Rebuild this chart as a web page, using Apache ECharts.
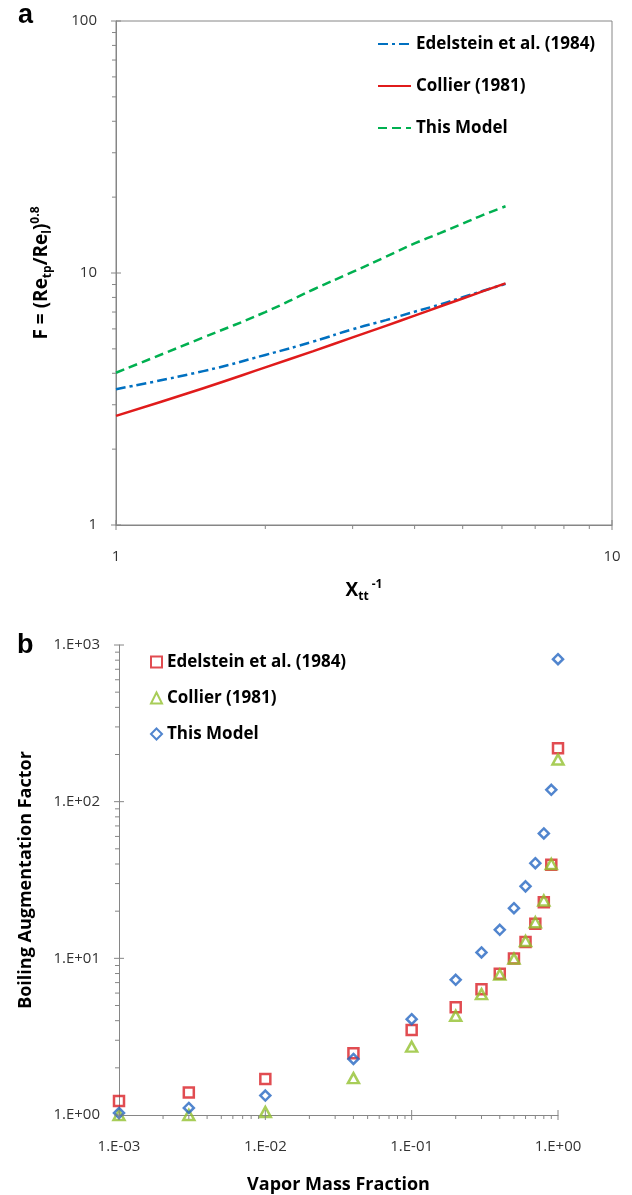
<!DOCTYPE html>
<html><head><meta charset="utf-8">
<script src="https://cdn.jsdelivr.net/npm/echarts@6/dist/echarts.min.js"></script>
<style>html,body{margin:0;padding:0;background:#fff}#c{width:632px;height:1195px}</style>
</head><body><div id="c"></div>
<script>
// ---------- Panel a data ----------
const aX = [1, 1.5, 2, 2.5, 3, 3.5, 4, 4.5, 5, 5.5, 6.1];
const aEdelstein = [3.46, 4.08, 4.73, 5.35, 5.98, 6.5, 7.02, 7.5, 8.01, 8.5, 9.05];
const aCollier = [2.71, 3.49, 4.22, 4.90, 5.55, 6.17, 6.77, 7.36, 7.92, 8.47, 9.1];
const aModel = [4.02, 5.55, 7.0, 8.6, 10.1, 11.6, 13.1, 14.4, 15.7, 17.0, 18.4];
const aMajorX = [1, 10];
const aMinorX = [2, 3, 4, 5, 6, 7, 8, 9];
const aMajorY = [1, 10, 100];
const aMinorY = [2, 3, 4, 5, 6, 7, 8, 9, 20, 30, 40, 50, 60, 70, 80, 90];

// ---------- Panel b data ----------
const bX = [0.001, 0.003, 0.01, 0.04, 0.1, 0.2, 0.3, 0.4, 0.5, 0.6, 0.7, 0.8, 0.9, 1.0];
const bEdelstein = [1.23, 1.39, 1.70, 2.48, 3.49, 4.88, 6.35, 7.96, 9.96, 12.7, 16.6, 22.8, 39.6, 219];
const bCollier = [1.0, 1.0, 1.045, 1.72, 2.73, 4.30, 5.91, 7.88, 9.96, 12.9, 17.0, 23.4, 40.0, 186];
const bModel = [1.03, 1.11, 1.33, 2.28, 4.09, 7.29, 10.9, 15.2, 20.9, 28.8, 40.5, 62.7, 119, 812];
const bMajorX = [0.001, 0.01, 0.1, 1];
const bMinorX = [0.002, 0.003, 0.004, 0.005, 0.006, 0.007, 0.008, 0.009,
                 0.02, 0.03, 0.04, 0.05, 0.06, 0.07, 0.08, 0.09,
                 0.2, 0.3, 0.4, 0.5, 0.6, 0.7, 0.8, 0.9];
const bMajorY = [1, 10, 100, 1000];
const bMinorY = [2, 3, 4, 5, 6, 7, 8, 9, 20, 30, 40, 50, 60, 70, 80, 90,
                 200, 300, 400, 500, 600, 700, 800, 900];

const FONT = 'Open Sans';
const AXIS_COLOR = '#868686';
const LABEL_COLOR = '#333333';

function pairs(xs, ys) { return xs.map((x, i) => [x, ys[i]]); }

function sci(v) {
  const e = Math.round(Math.log10(v));
  return '1.E' + (e < 0 ? '-' : '+') + String(Math.abs(e)).padStart(2, '0');
}

// kind: 0 x-minor (down), 1 x-major (cross), 2 y-minor (left), 3 y-major (cross)
function tickSeries(idx, xMin, yMin, majX, minX, majY, minY) {
  const data = []
    .concat(minX.map(v => [v, yMin, 0]))
    .concat(majX.map(v => [v, yMin, 1]))
    .concat(minY.map(v => [xMin, v, 2]))
    .concat(majY.map(v => [xMin, v, 3]));
  return {
    type: 'custom', xAxisIndex: idx, yAxisIndex: idx, silent: true, clip: false, z: 5,
    data: data,
    renderItem: function (params, api) {
      const p = api.coord([api.value(0), api.value(1)]);
      const k = api.value(2);
      let s;
      if (k === 0) s = { x1: p[0], y1: p[1], x2: p[0], y2: p[1] + 4 };
      else if (k === 1) s = { x1: p[0], y1: p[1] - 5, x2: p[0], y2: p[1] + 5 };
      else if (k === 2) s = { x1: p[0] - 4, y1: p[1], x2: p[0], y2: p[1] };
      else s = { x1: p[0] - 5, y1: p[1], x2: p[0] + 5, y2: p[1] };
      return { type: 'line', shape: s, style: { stroke: AXIS_COLOR, lineWidth: 1 } };
    }
  };
}

const labelStyle = { color: LABEL_COLOR, fontSize: 15, fontFamily: FONT };
const titleRich = {
  b: { fontFamily: FONT, fontWeight: 'bold', fontSize: 19, color: '#000', lineHeight: 24, verticalAlign: 'middle' },
  sub: { fontFamily: FONT, fontWeight: 'bold', fontSize: 12, color: '#000', lineHeight: 12, verticalAlign: 'bottom' },
  sup: { fontFamily: FONT, fontWeight: 'bold', fontSize: 12, color: '#000', lineHeight: 12, verticalAlign: 'top' }
};

const option = {
  animation: false,
  backgroundColor: '#fff',
  graphic: [
    { type: 'text', left: 18, top: 2, style: { text: 'a', fontFamily: 'Liberation Sans', fontWeight: 'bold', fontSize: 27, fill: '#000' } },
    { type: 'text', left: 17, top: 632, style: { text: 'b', fontFamily: 'Liberation Sans', fontWeight: 'bold', fontSize: 27, fill: '#000' } }
  ],
  grid: [
    { left: 116, right: 20, top: 21, bottom: 670, show: true, borderColor: AXIS_COLOR, borderWidth: 1 },
    { left: 119, right: 74, top: 645, bottom: 78, show: false }
  ],
  legend: [
    {
      data: ['Edelstein et al. (1984)', 'Collier (1981)', 'This Model'],
      orient: 'vertical', left: 377, top: 35, padding: 0,
      itemWidth: 33, itemHeight: 14, itemGap: 24, selectedMode: false,
      itemStyle: { opacity: 0 },
      textStyle: { fontFamily: FONT, fontWeight: 'bold', fontSize: 17, color: '#000', lineHeight: 18 }
    },
    {
      data: ['Edelstein et al. (1984) ', 'Collier (1981) ', 'This Model '],
      orient: 'vertical', left: 150, top: 653, padding: 0,
      itemWidth: 11, itemHeight: 11, itemGap: 18, selectedMode: false,
      textStyle: { fontFamily: FONT, fontWeight: 'bold', fontSize: 17, color: '#000', lineHeight: 18 }
    }
  ],
  xAxis: [
    {
      type: 'log', logBase: 10, min: 1, max: 10, gridIndex: 0,
      axisLine: { lineStyle: { color: AXIS_COLOR } }, axisTick: { show: false },
      splitLine: { show: false }, minorTick: { show: false },
      axisLabel: Object.assign({ margin: 24 }, labelStyle),
      name: '{b|X}{sub|tt}{sup| -1}', nameLocation: 'middle', nameGap: 54,
      nameTextStyle: { rich: titleRich }
    },
    {
      type: 'log', logBase: 10, min: 0.001, max: 1, gridIndex: 1,
      axisLine: { lineStyle: { color: AXIS_COLOR } }, axisTick: { show: false },
      splitLine: { show: false },
      axisLabel: Object.assign({ margin: 24, formatter: sci }, labelStyle),
      name: 'Vapor Mass Fraction', nameLocation: 'middle', nameGap: 61,
      nameTextStyle: { fontFamily: FONT, fontWeight: 'bold', fontSize: 18, color: '#000' }
    }
  ],
  yAxis: [
    {
      type: 'log', logBase: 10, min: 1, max: 100, gridIndex: 0,
      axisLine: { lineStyle: { color: AXIS_COLOR } }, axisTick: { show: false },
      splitLine: { show: false },
      axisLabel: Object.assign({ margin: 19 }, labelStyle),
      name: '{b|F = (Re}{sub|tp}{b|/Re}{sub|l}{b|)}{sup|0.8}', nameLocation: 'middle', nameGap: 62,
      nameTextStyle: { rich: titleRich }
    },
    {
      type: 'log', logBase: 10, min: 1, max: 1000, gridIndex: 1,
      axisLine: { lineStyle: { color: AXIS_COLOR } }, axisTick: { show: false },
      splitLine: { show: false },
      axisLabel: Object.assign({ margin: 19, formatter: sci }, labelStyle),
      name: 'Boiling Augmentation Factor', nameLocation: 'middle', nameGap: 84,
      nameTextStyle: { fontFamily: FONT, fontWeight: 'bold', fontSize: 18, color: '#000' }
    }
  ],
  series: [
    {
      name: 'Edelstein et al. (1984)', type: 'line', xAxisIndex: 0, yAxisIndex: 0,
      data: pairs(aX, aEdelstein), symbol: 'none', smooth: true,
      lineStyle: { color: '#0070C0', width: 2.5, type: [10, 4, 3, 4] }, itemStyle: { color: '#0070C0' }
    },
    {
      name: 'Collier (1981)', type: 'line', xAxisIndex: 0, yAxisIndex: 0,
      data: pairs(aX, aCollier), symbol: 'none', smooth: true,
      lineStyle: { color: '#E01B1B', width: 2.5, type: 'solid' }, itemStyle: { color: '#E01B1B' }
    },
    {
      name: 'This Model', type: 'line', xAxisIndex: 0, yAxisIndex: 0,
      data: pairs(aX, aModel), symbol: 'none', smooth: true,
      lineStyle: { color: '#00B050', width: 2.5, type: [9, 5] }, itemStyle: { color: '#00B050' }
    },
    {
      name: 'Edelstein et al. (1984) ', type: 'scatter', xAxisIndex: 1, yAxisIndex: 1, clip: false,
      data: pairs(bX, bEdelstein), symbol: 'rect', symbolSize: 10,
      itemStyle: { color: 'rgba(255,255,255,0)', borderColor: '#D91F26', borderWidth: 2.5 }
    },
    {
      name: 'Collier (1981) ', type: 'scatter', xAxisIndex: 1, yAxisIndex: 1, clip: false,
      data: pairs(bX, bCollier), symbol: 'triangle', symbolSize: [11, 10],
      itemStyle: { color: 'rgba(255,255,255,0)', borderColor: '#92C02E', borderWidth: 2.5 }
    },
    {
      name: 'This Model ', type: 'scatter', xAxisIndex: 1, yAxisIndex: 1, clip: false,
      data: pairs(bX, bModel), symbol: 'diamond', symbolSize: 10,
      itemStyle: { color: 'rgba(255,255,255,0)', borderColor: '#2566C2', borderWidth: 2.5 }
    },
    tickSeries(0, 1, 1, aMajorX, aMinorX, aMajorY, aMinorY),
    tickSeries(1, 0.001, 1, bMajorX, bMinorX, bMajorY, bMinorY)
  ]
};

const chart = echarts.init(document.getElementById('c'), null, { renderer: 'canvas' });
chart.setOption(option);
</script>
</body></html>
